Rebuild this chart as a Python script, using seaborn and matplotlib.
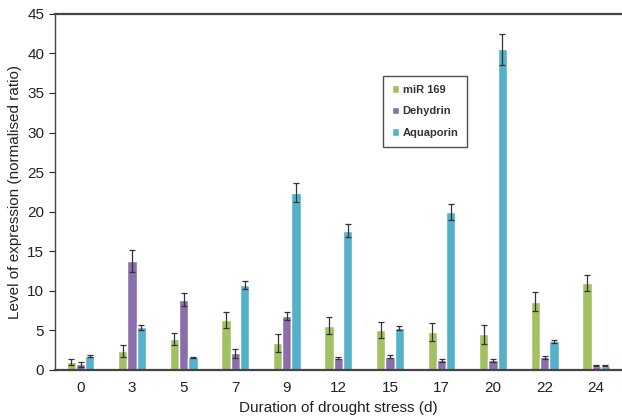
import pandas as pd
import matplotlib
matplotlib.use('Agg')
import matplotlib.pyplot as plt
import seaborn as sns

days = ['0', '3', '5', '7', '9', '12', '15', '17', '20', '22', '24']
genes = ['miR 169', 'Dehydrin', 'Aquaporin']

mir169 = [1.0, 2.4, 3.9, 6.3, 3.4, 5.6, 5.0, 4.8, 4.5, 8.6, 11.0]
mir169_err = [0.4, 0.8, 0.8, 1.0, 1.1, 1.1, 1.0, 1.1, 1.2, 1.2, 1.0]
dehydrin = [0.7, 13.8, 8.9, 2.1, 6.8, 1.5, 1.7, 1.2, 1.2, 1.6, 0.55]
dehydrin_err = [0.3, 1.4, 0.8, 0.6, 0.5, 0.1, 0.15, 0.2, 0.2, 0.2, 0.1]
aquaporin = [1.8, 5.4, 1.6, 10.7, 22.4, 17.6, 5.3, 20.0, 40.5, 3.6, 0.55]
aquaporin_err = [0.1, 0.3, 0.1, 0.5, 1.2, 0.8, 0.3, 1.0, 2.0, 0.15, 0.05]

colors = ['#A2C163', '#8B6FAD', '#55B1C9']

rows = []
for g, vals, errs in [(genes[0], mir169, mir169_err),
                      (genes[1], dehydrin, dehydrin_err),
                      (genes[2], aquaporin, aquaporin_err)]:
    for d, v, e in zip(days, vals, errs):
        rows.append({'day': d, 'gene': g, 'value': v, 'err': e})
df = pd.DataFrame(rows)

sns.set_style('white')
plt.rcParams['font.family'] = ['Liberation Sans', 'DejaVu Sans']

fig = plt.figure(figsize=(6.22, 4.19), dpi=100)
ax = fig.add_axes([0.088, 0.117, 0.912, 0.85])

sns.barplot(data=df, x='day', y='value', hue='gene', order=days, hue_order=genes,
            palette=colors, width=0.54, errorbar=None, saturation=1, ax=ax)

# error bars on top of each bar, in hue order
for i, g in enumerate(genes):
    cont = ax.containers[i]
    sub = df[df['gene'] == g].set_index('day').loc[days]
    xs = [p.get_x() + p.get_width() / 2 for p in cont.patches]
    ax.errorbar(xs, sub['value'], yerr=sub['err'], fmt='none', ecolor='#333333',
                elinewidth=0.9, capsize=2.5, capthick=0.9)

ax.set_ylim(0, 45)
ax.set_xlim(-0.5, 10.5)
ax.set_yticks(range(0, 46, 5))
ax.set_xlabel('Duration of drought stress (d)', fontsize=11, color='#222222')
ax.set_ylabel('Level of expression (normalised ratio)', fontsize=11, color='#222222')
ax.tick_params(axis='y', labelsize=11, colors='#222222', length=4, width=0.8, direction='out', left=True)
ax.tick_params(axis='x', labelsize=11, colors='#222222', length=0, pad=8)

for s in ['top', 'left', 'bottom']:
    ax.spines[s].set_color('#444444')
ax.spines['right'].set_visible(False)
ax.spines['top'].set_linewidth(1.6)
ax.spines['left'].set_linewidth(1.0)
ax.spines['bottom'].set_linewidth(1.6)

leg = ax.legend(loc='upper left', bbox_to_anchor=(0.578, 0.826), frameon=True, fancybox=False,
                handlelength=0.7, handleheight=0.7, handletextpad=0.3,
                labelspacing=1.05, borderpad=0.8, borderaxespad=0,
                prop={'weight': 'bold', 'size': 8})
leg.get_frame().set_edgecolor('#222222')
leg.get_frame().set_linewidth(1.0)
for t in leg.get_texts():
    t.set_color('#333333')

fig.savefig('out.png', dpi=100)
